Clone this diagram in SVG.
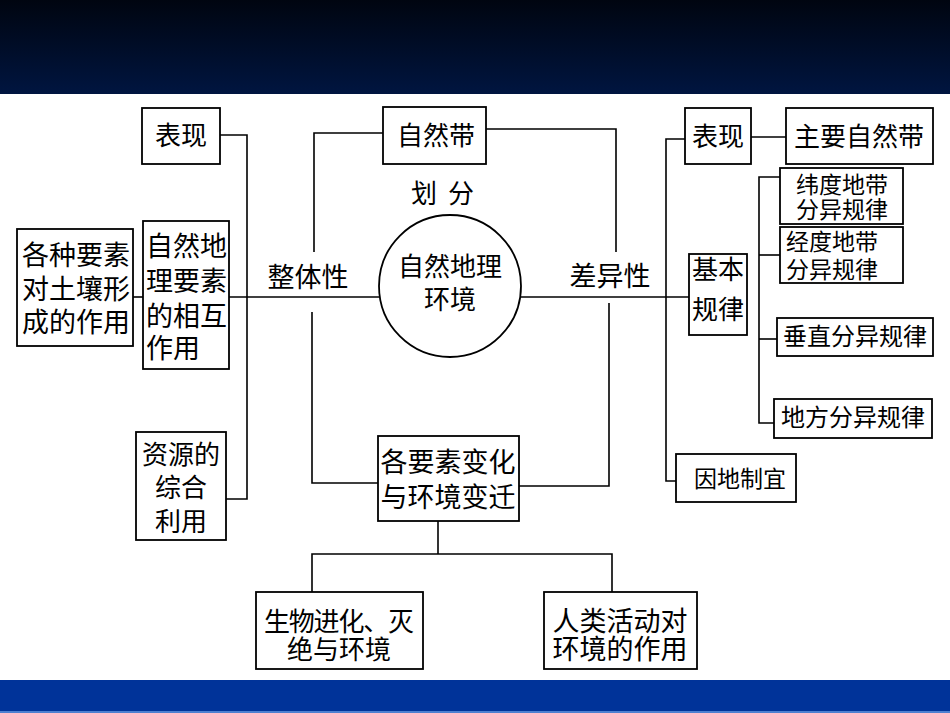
<svg xmlns="http://www.w3.org/2000/svg" width="950" height="713" viewBox="0 0 950 713">
<defs>
<linearGradient id="hdr" x1="0" y1="0" x2="0" y2="1">
<stop offset="0" stop-color="#000510"/>
<stop offset="1" stop-color="#001540"/>
</linearGradient>
<style>
.box{fill:#fff;stroke:#000;stroke-width:1.8}
.ln{fill:none;stroke:#000;stroke-width:1.6}
text{font-family:"Liberation Serif","Noto Sans CJK SC",serif;fill:#000;dominant-baseline:central}
.c{text-anchor:middle}
.s26{font-size:26px}
.s27{font-size:27px}
.s23{font-size:23px}
.s24{font-size:24px}
</style>
</defs>
<rect x="0" y="0" width="950" height="713" fill="#fff"/>
<rect x="0" y="0" width="950" height="94" fill="url(#hdr)"/>
<rect x="0" y="680" width="950" height="33" fill="#003399"/>
<rect x="0" y="711" width="950" height="2" fill="#4d7fd0"/>

<g id="connectors">
<path class="ln" d="M133 297 H143"/>
<path class="ln" d="M229 297 H379"/>
<path class="ln" d="M220 135 H247 V499 H226"/>
<path class="ln" d="M314 252 V133 H383"/>
<path class="ln" d="M312 312 V483 H378"/>
<path class="ln" d="M486 129 H616 V252"/>
<path class="ln" d="M521 297 H689"/>
<path class="ln" d="M609 303 V486 H519"/>
<path class="ln" d="M685 139 H666 V481 H676"/>
<path class="ln" d="M780 177 H759 V423 H774"/>
<path class="ln" d="M759 255 H780"/>
<path class="ln" d="M759 339 H777"/>
<path class="ln" d="M751 137 H786"/>
<path class="ln" d="M438 521 V554"/>
<path class="ln" d="M312 592 V554 H612 V592"/>
</g>

<g id="n_biaoxian_l">
<rect class="box" x="142" y="108" width="78" height="56"/>
<text class="c s26" x="181" y="136">表现</text>
</g>
<g id="n_turang">
<rect class="box" x="17" y="229" width="116" height="117"/>
<text class="c s27" x="76" y="256">各种要素</text>
<text class="c s27" x="76" y="290">对土壤形</text>
<text class="c s27" x="76" y="323">成的作用</text>
</g>
<g id="n_xianghu">
<rect class="box" x="143" y="221" width="86" height="148"/>
<text class="s27" x="146" y="247">自然地</text>
<text class="s27" x="146" y="282">理要素</text>
<text class="s27" x="146" y="317">的相互</text>
<text class="s27" x="146" y="349">作用</text>
</g>
<g id="n_ziyuan">
<rect class="box" x="136" y="432" width="90" height="108"/>
<text class="c s26" x="181" y="455">资源的</text>
<text class="c s26" x="181" y="488">综合</text>
<text class="c s26" x="181" y="522">利用</text>
</g>
<g id="n_zirandai">
<rect class="box" x="383" y="107" width="103" height="57"/>
<text class="c s26" x="436" y="136">自然带</text>
</g>
<g id="l_huafen">
<text class="c s26" x="443" y="194"><tspan x="424">划</tspan><tspan x="461">分</tspan></text>
</g>
<g id="n_center">
<circle cx="450" cy="286" r="71" fill="#fff" stroke="#000" stroke-width="1.8"/>
<text class="c s26" x="450" y="267">自然地理</text>
<text class="c s26" x="450" y="300">环境</text>
</g>
<g id="l_zhengti">
<text class="c s27" x="308" y="278">整体性</text>
</g>
<g id="l_chayi">
<text class="c s27" x="610" y="277">差异性</text>
</g>
<g id="n_bianqian">
<rect class="box" x="378" y="436" width="141" height="85"/>
<text class="c s27" x="448" y="463">各要素变化</text>
<text class="c s27" x="448" y="498">与环境变迁</text>
</g>
<g id="n_shengwu">
<rect class="box" x="256" y="592" width="167" height="77"/>
<text class="c s26" x="339" y="622" textLength="150" lengthAdjust="spacing">生物进化、灭</text>
<text class="c s26" x="339" y="650">绝与环境</text>
</g>
<g id="n_renlei">
<rect class="box" x="544" y="592" width="153" height="77"/>
<text class="c s27" x="620" y="622">人类活动对</text>
<text class="c s27" x="620" y="650">环境的作用</text>
</g>
<g id="n_biaoxian_r">
<rect class="box" x="685" y="108" width="66" height="56"/>
<text class="c s26" x="718" y="137">表现</text>
</g>
<g id="n_zhuyao">
<rect class="box" x="786" y="108" width="147" height="56"/>
<text class="c s26" x="859" y="137">主要自然带</text>
</g>
<g id="n_weidu">
<rect class="box" x="780" y="168" width="123" height="56"/>
<text class="c s23" x="842" y="185">纬度地带</text>
<text class="c s23" x="842" y="210">分异规律</text>
</g>
<g id="n_jingdu">
<rect class="box" x="780" y="227" width="123" height="56"/>
<text class="s23" x="786" y="242">经度地带</text>
<text class="s23" x="786" y="270">分异规律</text>
</g>
<g id="n_jiben">
<rect class="box" x="689" y="254" width="58" height="81"/>
<text class="c s26" x="718" y="270">基本</text>
<text class="c s26" x="718" y="310">规律</text>
</g>
<g id="n_chuizhi">
<rect class="box" x="777" y="318" width="156" height="38"/>
<text class="c s24" x="855" y="337">垂直分异规律</text>
</g>
<g id="n_difang">
<rect class="box" x="774" y="399" width="158" height="39"/>
<text class="c s24" x="853" y="418">地方分异规律</text>
</g>
<g id="n_yindi">
<rect class="box" x="676" y="454" width="120" height="48"/>
<text class="c s23" x="740" y="479">因地制宜</text>
</g>
</svg>
